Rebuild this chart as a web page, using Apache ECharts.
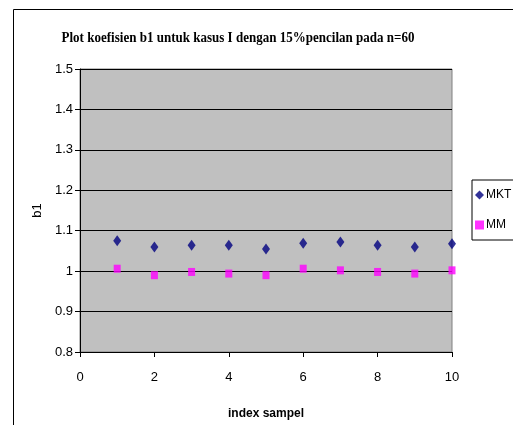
<!DOCTYPE html>
<html>
<head>
<meta charset="utf-8">
<script src="https://cdn.jsdelivr.net/npm/echarts@6/dist/echarts.min.js"></script>
<style>
  html, body { margin: 0; padding: 0; background: #fff; }
  #chart { width: 513px; height: 425px; }
</style>
</head>
<body>
<div id="chart"></div>
<script>
var dom = document.getElementById('chart');
var myChart = echarts.init(dom);

// sample index 1..10
var indexSampel = [1, 2, 3, 4, 5, 6, 7, 8, 9, 10];
var mkt = [1.075, 1.060, 1.064, 1.064, 1.055, 1.069, 1.072, 1.064, 1.060, 1.068];
var mm = [1.006, 0.990, 0.998, 0.994, 0.990, 1.006, 1.002, 0.998, 0.994, 1.002];

function pairs(ys) {
  return indexSampel.map(function (x, i) { return [x, ys[i]]; });
}

var option = {
  animation: false,
  backgroundColor: '#fff',
  graphic: [
    // outer chart frame (left and top edges visible)
    { type: 'polyline', shape: { points: [[13.5, 425], [13.5, 9.5], [513, 9.5]] },
      style: { stroke: '#000', lineWidth: 1, fill: null } },
    // title, slightly condensed like the original
    { type: 'text', x: 238, y: 38, scaleX: 0.93,
      style: {
        text: 'Plot koefisien b1 untuk kasus I dengan 15%pencilan pada n=60',
        fontFamily: 'Liberation Serif', fontWeight: 'bold', fontSize: 14, fill: '#000',
        align: 'center', verticalAlign: 'middle'
      } }
  ],
  legend: {
    orient: 'vertical',
    left: 472,
    top: 180,
    padding: [9, 6, 9, 3],
    itemGap: 18,
    itemWidth: 9,
    itemHeight: 9,
    borderColor: '#000',
    borderWidth: 1,
    textStyle: { fontFamily: 'Liberation Sans', fontSize: 12, color: '#000', padding: [0, 0, 0, -3] },
    data: ['MKT', 'MM']
  },
  grid: {
    left: 80,
    top: 69,
    width: 372,
    height: 284,
    show: true,
    backgroundColor: '#c0c0c0',
    borderColor: '#808080',
    borderWidth: 1
  },
  xAxis: {
    type: 'value',
    min: 0,
    max: 10,
    interval: 2,
    name: 'index sampel',
    nameLocation: 'middle',
    nameGap: 56,
    nameTextStyle: { fontFamily: 'Liberation Sans', fontWeight: 'bold', fontSize: 12, color: '#000' },
    axisLine: { lineStyle: { color: '#000' } },
    axisTick: { show: true, length: 5, lineStyle: { color: '#000' } },
    axisLabel: { fontFamily: 'Liberation Sans', fontSize: 13, color: '#000', margin: 19 },
    splitLine: { show: false }
  },
  yAxis: {
    type: 'value',
    min: 0.8,
    max: 1.5,
    interval: 0.1,
    name: 'b1',
    nameLocation: 'middle',
    nameGap: 31,
    nameRotate: 90,
    nameTextStyle: { fontFamily: 'Liberation Sans', fontSize: 13, color: '#000' },
    axisLine: { show: true, lineStyle: { color: '#000' } },
    axisTick: { show: true, length: 5, lineStyle: { color: '#000' } },
    axisLabel: {
      fontFamily: 'Liberation Sans', fontSize: 13, color: '#000', margin: 7,
      formatter: function (v) { return String(Math.round(v * 10) / 10); }
    },
    splitLine: { show: true, lineStyle: { color: '#000', width: 1 } }
  },
  series: [
    {
      name: 'MKT',
      type: 'scatter',
      symbol: 'diamond',
      symbolSize: [8, 11],
      itemStyle: { color: '#000080' },
      data: pairs(mkt)
    },
    {
      name: 'MM',
      type: 'scatter',
      symbol: 'rect',
      symbolSize: [7, 8],
      itemStyle: { color: '#ff00ff' },
      data: pairs(mm)
    }
  ]
};

myChart.setOption(option);
</script>
</body>
</html>
